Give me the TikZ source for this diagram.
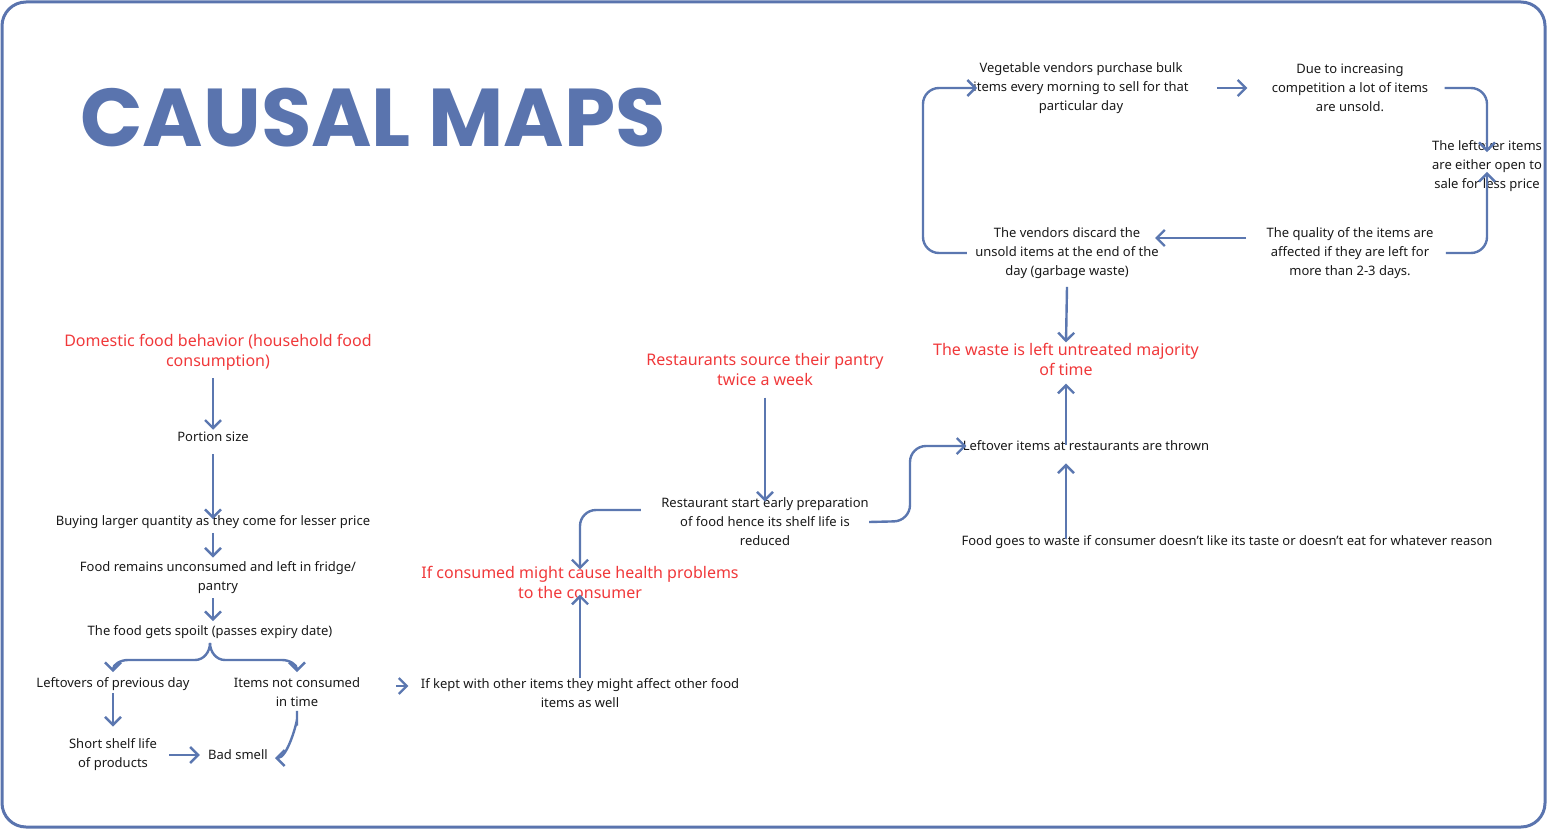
\documentclass[tikz,border=0pt]{standalone}
\usepackage{fontspec}
\setmainfont{Noto Sans}
\newfontfamily\titlefont{Poppins}
\usetikzlibrary{arrows.meta}
\definecolor{ablue}{HTML}{5B77B0}
\definecolor{fblue}{HTML}{5A74AE}
\definecolor{tred}{HTML}{F0383A}
\begin{document}
\begin{tikzpicture}[x=0.5pt,y=-0.5pt,
  txt/.style={font=\fontsize{6.5}{9.5}\selectfont, align=center, inner sep=2pt, text=black!90},
  red/.style={font=\fontsize{8}{10}\selectfont\bfseries, align=center, inner sep=2pt, text=tred},
  arr/.style={draw=ablue, line width=1.2pt, -{Straight Barb[length=4pt,width=8pt]}, rounded corners=8pt}]
\useasboundingbox (0,0) rectangle (1547,829);
\draw[fblue, line width=1.5pt, rounded corners=12pt] (2,2) rectangle (1545,827);
\node[anchor=west, text=fblue, font=\titlefont\fontsize{41}{41}\selectfont\bfseries, inner sep=0pt] (title) at (80,118) {CAUSAL MAPS};

\node[red] (d1) at (218,352) {Domestic food behavior (household food\\consumption)};
\node[txt] (portion) at (213,437) {Portion size};
\node[txt] (buying) at (213,522) {Buying larger quantity as they come for lesser price};
\node[txt] (remains) at (218,578) {Food remains unconsumed and left in fridge/\\pantry};
\node[txt] (spoilt) at (210,632) {The food gets spoilt (passes expiry date)};
\node[txt] (leftovers) at (113,684) {Leftovers of previous day};
\node[txt] (notcons) at (297,692) {Items not consumed\\in time};
\node[txt] (short) at (113,755) {Short shelf life\\of products};
\node[txt] (bad) at (238,755) {Bad smell};
\node[txt] (ifkept) at (580,693) {If kept with other items they might affect other food\\items as well};
\node[red] (health) at (580,582) {If consumed might cause health problems\\to the consumer};
\node[red] (rest) at (765,369) {Restaurants source their pantry\\twice a week};
\node[txt] (prep) at (765,522) {Restaurant start early preparation\\of food hence its shelf life is\\reduced};
\node[txt] (lrest) at (1086,446) {Leftover items at restaurants are thrown};
\node[txt] (goes) at (1227,542) {Food goes to waste if consumer doesn’t like its taste or doesn’t eat for whatever reason};
\node[red] (waste) at (1066,359) {The waste is left untreated majority\\of time};
\node[txt] (veg) at (1081,88) {Vegetable vendors purchase bulk\\items every morning to sell for that\\particular day};
\node[txt] (due) at (1350,88) {Due to increasing\\competition a lot of items\\are unsold.};
\node[txt] (lefto) at (1487,166) {The leftover items\\are either open to\\sale for less price};
\node[txt] (quality) at (1350,253) {The quality of the items are\\affected if they are left for\\more than 2-3 days.};
\node[txt] (discard) at (1067,253) {The vendors discard the\\unsold items at the end of the\\day (garbage waste)};

\draw[arr] (d1.south -| portion) ++(0,4) -- ([yshift=-1pt]portion.north);
\draw[arr] ([yshift=-4pt]portion.south) -- ([yshift=-4pt]buying.north);
\draw[arr] (buying.south) -- (remains.north -| buying);
\draw[arr] (remains.south -| buying) -- (spoilt.north -| buying);
\draw[arr, rounded corners=0pt] (spoilt.south) to[out=-90,in=0] (195,660) -- (128,660) to[out=180,in=90] (113,672);
\draw[arr, rounded corners=0pt] (spoilt.south) to[out=-90,in=180] (225,660) -- (282,660) to[out=0,in=90] (297,672);
\draw[arr] (leftovers.south) ++(0,-2) -- ([yshift=4pt]short.north);
\draw[arr] (notcons.south) -- (297,735) to[out=90,in=0] (275,758);
\draw[arr] ([xshift=4pt]short.east |- bad) -- ([xshift=-2pt]bad.west);
\draw[arr] ([xshift=16pt]notcons.east |- 0,686) -- ([xshift=-4pt]ifkept.west |- 0,686);
\draw[arr] ([yshift=-2pt]ifkept.north) -- ([yshift=4pt]health.south);
\draw[arr] ([yshift=-4pt]rest.south) -- ([yshift=-4pt]prep.north);
\draw[arr] ([xshift=-8pt]prep.north west |- 0,510) -- (580,510) -- ([yshift=-4pt]health.north);
\draw[arr] ([xshift=-2pt]prep.east) -- (910,521) -- (910,446) -- ([xshift=4pt]lrest.west);
\draw[arr] ([yshift=-4pt]goes.north -| waste) -- ([yshift=-4pt]lrest.south -| waste);
\draw[arr] ([yshift=-4pt]lrest.north -| waste) -- ([yshift=-2pt]waste.south);
\draw[arr] ([yshift=-2pt]discard.south) -- ([yshift=-2pt]waste.north);
\draw[arr] ([xshift=12pt]veg.east) -- ([xshift=-10pt]due.west);
\draw[arr] ([xshift=6pt]due.east) -- (1487,88) -- ([yshift=-8pt]lefto.north);
\draw[arr] ([xshift=4pt]quality.east) -- (1487,253) -- ([yshift=12pt]lefto.south);
\draw[arr] ([xshift=-8pt]quality.west |- 0,238) -- ([xshift=-4pt]discard.east |- 0,238);
\draw[arr] ([xshift=-2pt]discard.west) -- (923,253) -- (923,88) -- ([xshift=4pt]veg.west);
\end{tikzpicture}
\end{document}
